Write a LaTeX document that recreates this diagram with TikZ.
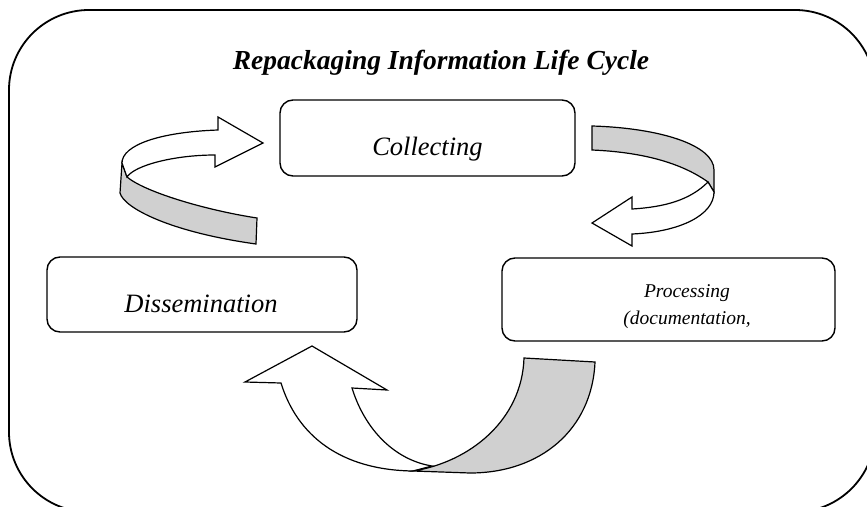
\documentclass[tikz,border=0pt]{standalone}
\usepackage{fontspec}
\setmainfont{Liberation Serif}
\definecolor{ribbon}{RGB}{208,208,208}
\begin{document}
\begin{tikzpicture}[x=1pt,y=-1pt,
  box/.style={draw,line width=1.4pt,rounded corners=13pt,inner sep=0pt},
  shaft/.style={draw,line width=1.2pt,line join=miter},
  lbl/.style={font=\fontsize{26.5}{30}\selectfont\itshape,anchor=base,inner sep=0pt},
  smalllbl/.style={font=\fontsize{19.5}{27}\selectfont\itshape,anchor=base,inner sep=0pt}]
\useasboundingbox (0,0) rectangle (867,506);
\begin{scope}
\clip (0,0) rectangle (867,506);
\draw[line width=1.8pt,rounded corners=80pt] (9,10) rectangle (875,512);
\end{scope}

% title
\node[font=\fontsize{27.5}{30}\selectfont\bfseries\itshape,anchor=base,inner sep=0pt] (title) at (441,69) {Repackaging Information Life Cycle};

% boxes
\node[box,minimum width=295pt,minimum height=76pt] (collect) at (427.5,138) {};
\node[box,minimum width=310pt,minimum height=75pt] (dissem) at (202,294.5) {};
\node[box,minimum width=333pt,minimum height=83pt] (proc) at (668.5,299.5) {};

\node[lbl] (tcollect) at (427.5,155) {Collecting};
\node[lbl] (tdissem) at (201,312) {Dissemination};
\node[smalllbl] (tproc1) at (687,297) {Processing};
\node[smalllbl] (tproc2) at (687,324) {(documentation,};

% top-left curved arrow
\filldraw[shaft,fill=ribbon] (122,163) -- (120,193)
  .. controls (124,208) and (170,232) .. (256,244) -- (257,218)
  .. controls (205,210) and (145,192) .. (127,177) -- cycle;
\filldraw[shaft,fill=white] (127,177) .. controls (135,165) and (175,155) .. (215,155)
  -- (215,167) -- (263,143) -- (218,117) -- (218,130)
  .. controls (160,132) and (122,145) .. (122,163) -- cycle;

% top-right curved arrow
\filldraw[shaft,fill=ribbon] (592,126) .. controls (660,128) and (714,145) .. (714,170)
  -- (714,192) -- (708,182) .. controls (680,162) and (640,152) .. (592,150) -- cycle;
\filldraw[shaft,fill=white] (708,182) .. controls (690,200) and (665,207) .. (632,209)
  -- (632,197) -- (592,223) -- (632,246) -- (632,234)
  .. controls (680,232) and (714,215) .. (714,192) -- cycle;

% bottom curved arrow
\filldraw[shaft,fill=white] (312,346) -- (387,390) -- (352,388)
  .. controls (365,430) and (395,460) .. (432,466) -- (413,471)
  .. controls (340,470) and (297,435) .. (281,383) -- (245,382) -- cycle;
\filldraw[shaft,fill=ribbon] (524,358) -- (595,362)
  .. controls (592,430) and (540,473) .. (470,473) -- (413,471)
  .. controls (470,462) and (522,420) .. (524,358) -- cycle;
\end{tikzpicture}
\end{document}
